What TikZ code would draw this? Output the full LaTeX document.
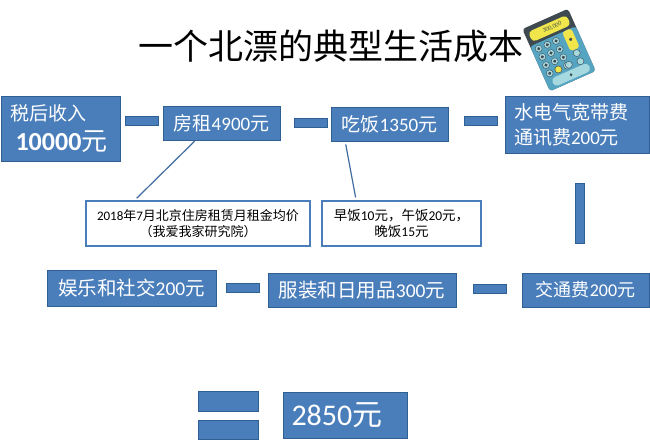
\documentclass[tikz,border=0pt]{standalone}
\usepackage{fontspec}
\setmainfont{Carlito}
\newfontfamily\cjk{Noto Sans CJK SC}
\usetikzlibrary{positioning}
\definecolor{boxblue}{HTML}{4A7EBB}
\definecolor{boxedge}{HTML}{2F5F93}
\definecolor{calcdark}{HTML}{3F4A50}
\definecolor{calcbody}{HTML}{55A5C2}
\definecolor{calckey}{HTML}{A6D8E0}
\definecolor{calcyellow}{HTML}{F0E64C}
\tikzset{
    entry/.style={draw=boxedge,fill=boxblue,line width=1pt,text=white,inner sep=0pt,font=\fontsize{19}{21}\selectfont},
    bar/.style={draw=boxedge,fill=boxblue,line width=1pt,inner sep=0pt},
    note/.style={draw=boxblue,fill=white,line width=1.2pt,inner sep=0pt,align=center,font=\fontsize{13}{16}\selectfont},
    leader/.style={draw=boxblue!85!black,line width=1.2pt},
    calckeyb/.style={circle,fill=calckey,draw=calcdark,line width=.4pt,minimum size=7pt,inner sep=0pt}
}
\begin{document}
\begin{tikzpicture}[x=1pt,y=-1pt,node distance=5pt]
    \useasboundingbox (0,0) rectangle (650,441);
    \node (title) at (331,46) {\cjk\fontsize{35}{40}\selectfont 一个北漂的典型生活成本};
    % first row
    \node[entry,minimum width=119pt,minimum height=64pt] (income) at (60.5,129) {};
    \node[anchor=north west,text=white,font=\fontsize{19}{22}\selectfont\cjk] (incomehead) at (7,101) {税后收入};
    \node[anchor=north west,text=white,font=\fontsize{26}{30}\selectfont\bfseries] (incomenum) at (12,127) {10000{\cjk\mdseries 元}};
    \node[bar,minimum width=33pt,minimum height=9pt] (bar1) at (142,121.5) {};
    \node[entry,minimum width=117pt,minimum height=33pt] (rent) at (221.5,123.5) {{\cjk 房租}4900{\cjk 元}};
    \node[bar,minimum width=33pt,minimum height=9pt] (bar2) [right = 13pt of rent] {};
    \node[entry,minimum width=117pt,minimum height=33pt] (food) at (389.5,124.5) {{\cjk 吃饭}1350{\cjk 元}};
    \node[bar,minimum width=33pt,minimum height=9pt] (bar3) at (481,121) {};
    \node[entry,minimum width=144pt,minimum height=56pt,align=left,text width=126pt,font=\fontsize{19}{25}\selectfont] (utility) at (577,125) {{\cjk 水电气宽带费}\\{\cjk 通讯费}200{\cjk 元}};
    % notes
    \node[note,minimum width=224pt,minimum height=45pt] (rentnote) at (198,223.5) {2018{\cjk 年}7{\cjk 月北京住房租赁月租金均价}\\{\cjk （我爱我家研究院）}};
    \node[note,minimum width=159pt,minimum height=45pt,font=\fontsize{13.5}{16}\selectfont] (foodnote) at (401.5,223.5) {{\cjk 早饭}10{\cjk 元，午饭}20{\cjk 元，}\\{\cjk 晚饭}15{\cjk 元}};
    \draw[leader,shorten <=1pt,shorten >=3pt] (rent.213) -- (rentnote.160);
    \draw[leader,shorten <=3pt,shorten >=3pt] (food.201) -- (foodnote.153);
    % second row
    \node[bar,minimum width=9pt,minimum height=60pt] (bar4) at (580,213) {};
    \node[entry,minimum width=127pt,minimum height=34pt,font=\fontsize{18}{21}\selectfont] (transport) at (585.5,290) {{\cjk 交通费}200{\cjk 元}};
    \node[bar,minimum width=33pt,minimum height=9pt] (bar5) at (490,289) {};
    \node[entry,minimum width=188pt,minimum height=34pt,font=\fontsize{19.5}{21}\selectfont] (clothes) at (362,290) {{\cjk 服装和日用品}300{\cjk 元}};
    \node[bar,minimum width=33pt,minimum height=9pt] (bar6) at (243,288) {};
    \node[entry,minimum width=169pt,minimum height=36pt,font=\fontsize{19.5}{21}\selectfont] (leisure) at (131.5,288) {{\cjk 娱乐和社交}200{\cjk 元}};
    % result
    \node[bar,minimum width=60pt,minimum height=20pt] (eqtop) at (228,401) {};
    \node[bar,minimum width=60pt,minimum height=19pt] (eqlow) [below = 8pt of eqtop] {};
    \node[entry,minimum width=124pt,minimum height=46pt,align=left,text width=107pt,font=\fontsize{30}{33}\selectfont] (result) at (345,415) {2850{\cjk 元}};
    % calculator
    \begin{scope}[shift={(559,50)},rotate=24]
        \fill[calcdark,rounded corners=3pt] (-25,-34) rectangle (25,34);
        \fill[calcbody,rounded corners=3pt] (-25,-15) -- (25,-15) -- (25,34) -- (-25,34) -- cycle;
        \fill[calcyellow,rounded corners=4pt] (-21,-29) rectangle (21,-18);
        \node[rotate=24,text=calcdark,font=\fontsize{6}{6}\selectfont] (display) at (3,-23.5) {300,000};
        \fill[calcyellow,rounded corners=3pt] (10,-15) rectangle (20,6);
        \foreach \row in {0,1,2,3} {
            \foreach \col in {0,1,2} {
                \node[calckeyb] (key\row\col) at (-18+\col*9.5,-9.5+\row*9) {};
                \fill[calcdark] (key\row\col) circle (1.7);
            }
        }
        \node[calckeyb,fill=calcyellow] (keydot) at (-8.5,17.5) {};
        \node[calckeyb] (keya) at (15,10) {};
        \node[calckeyb] (keyb) at (15,19) {};
        \node[calckeyb] (keyc) at (3,17.5) {};
        \fill[calcdark] (15,-5) circle (1.8);
        \fill[calckey,rounded corners=4pt] (-19,23) rectangle (21,32);
        \fill[calcdark] (1,27.5) circle (1.5);
    \end{scope}
\end{tikzpicture}
\end{document}
